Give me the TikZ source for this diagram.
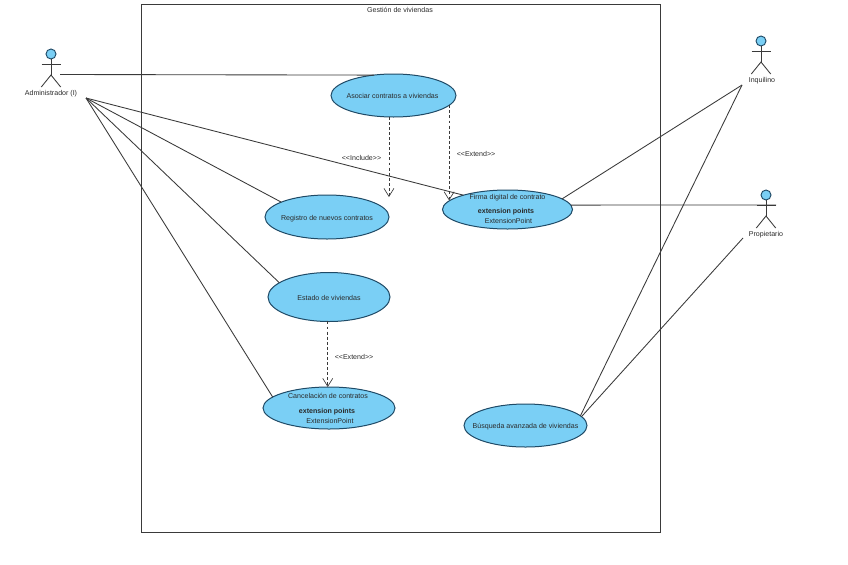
\documentclass[tikz,border=0pt]{standalone}
\usepackage{fontspec}
\setmainfont{Liberation Sans}
\usetikzlibrary{shapes.geometric,arrows.meta}
\definecolor{ucfill}{HTML}{7ACFF5}
\definecolor{ucline}{HTML}{1F4A66}
\definecolor{lnc}{HTML}{3A3A3A}
\definecolor{txt}{HTML}{2A2A2A}
\tikzset{
  x=0.75pt,y=-0.75pt,
  usecase/.style={ellipse,draw=ucline,fill=ucfill,line width=0.75pt,inner sep=0pt,outer sep=0pt},
  lbl/.style={font=\fontsize{5.3}{6.5}\selectfont,text=txt,inner sep=0pt,yshift=-0.6pt},
  boldlbl/.style={lbl,font=\fontsize{5.3}{6.5}\selectfont\bfseries},
  assoc/.style={draw=lnc,line width=0.65pt},
  dep/.style={draw=lnc,line width=0.65pt,dashed,dash pattern=on 2.2pt off 1.6pt,-{Straight Barb[length=6pt,width=7.5pt,line width=0.5pt]}},
  stick/.style={draw=lnc,line width=0.65pt},
  head/.style={circle,draw=ucline,fill=ucfill,line width=0.7pt,minimum size=7.5pt,inner sep=0pt},
  actorpic/.pic={
    \node[head] (-head) at (0,0) {};
    \draw[stick] (-head.south) -- (0,21);
    \draw[stick] (-9.5,10) -- (9.5,10);
    \draw[stick] (-9.7,33) -- (0,21) -- (9.7,33);
  }
}
\begin{document}
\begin{tikzpicture}
\useasboundingbox (0,0) rectangle (848,564);
\node[draw=lnc,line width=0.65pt,minimum width=389.25pt,minimum height=396pt,inner sep=0pt,anchor=north west] (frame) at (141,4) {};
\node[lbl] (title) at (400,9) {Gestión de viviendas};

\pic (adm) at (51,54) {actorpic};
\pic (inq) at (761,41) {actorpic};
\pic (pro) at (766,195) {actorpic};
\node[lbl] (admlabel) at (51,93) {Administrador (I)};
\node[lbl] (inqlabel) at (762,80) {Inquilino};
\node[lbl] (prolabel) at (766,234) {Propietario};

\coordinate (admA) at (60,74.5);
\coordinate (admB) at (86,98);
\coordinate (inqA) at (742,85);
\coordinate (proA) at (776,205);
\coordinate (proB) at (743,238);

\node[usecase,minimum width=93.75pt,minimum height=32.25pt] (asociar) at (393.5,95.5) {};
\node[usecase,minimum width=93pt,minimum height=33pt] (registro) at (327,217) {};
\node[usecase,minimum width=97.5pt,minimum height=29.25pt] (firma) at (507.5,209.5) {};
\node[usecase,minimum width=91.5pt,minimum height=36.75pt] (estado) at (329,297) {};
\node[usecase,minimum width=99pt,minimum height=31.5pt] (cancel) at (329,408) {};
\node[usecase,minimum width=92.25pt,minimum height=32.25pt] (busq) at (525.5,425.5) {};

\node[lbl] (t1) at (392.5,95.5) {Asociar contratos a viviendas};
\node[lbl] (t2) at (327,217.5) {Registro de nuevos contratos};
\node[lbl] (t3) at (507.5,197) {Firma digital de contrato};
\node[boldlbl] (t3b) at (506,211) {extension points};
\node[lbl] (t3c) at (508.5,220) {ExtensionPoint};
\node[lbl] (t4) at (329,297) {Estado de viviendas};
\node[lbl] (t5) at (328,395.5) {Cancelación de contratos};
\node[boldlbl] (t5b) at (327,410.5) {extension points};
\node[lbl] (t5c) at (330,420) {ExtensionPoint};
\node[lbl] (t6) at (525.5,426) {Búsqueda avanzada de viviendas};

\draw[assoc] (admA) -- (asociar.134);
\draw[assoc] (admB) -- (registro.162.3);
\draw[assoc] (admB) -- (estado.164);
\draw[assoc] (admB) -- (cancel.169.5);
\draw[assoc] (admB) -- (firma.162.3);
\draw[assoc] (inqA) -- (firma.11.3);
\draw[assoc] (inqA) -- (busq.10.4);
\draw[assoc] (proA) -- (firma.4);
\draw[assoc] (proB) -- (busq.9.5);

\coordinate (incEnd) at (389,197);
\draw[dep] (asociar.-102) -- (asociar.-102 |- incEnd);
\draw[dep] (asociar.-10.5) -- (asociar.-10.5 |- firma.171.7);
\draw[dep] (estado.-93) -- (estado.-93 |- cancel.north);

\node[lbl] (l1) at (361.5,157) {<{}<Include>{}>};
\node[lbl] (l2) at (476,153.5) {<{}<Extend>{}>};
\node[lbl] (l3) at (354,356) {<{}<Extend>{}>};
\end{tikzpicture}
\end{document}
